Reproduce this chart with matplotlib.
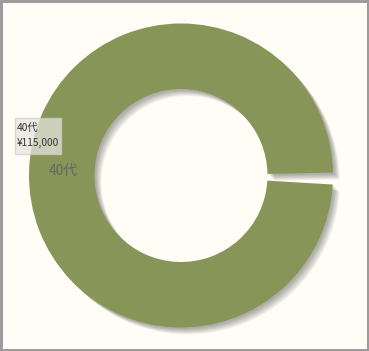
import matplotlib
matplotlib.use("Agg")
import matplotlib.pyplot as plt
from matplotlib.patches import Wedge, FancyBboxPatch

plt.rcParams['font.family'] = ['Noto Sans CJK JP', 'DejaVu Sans']

# data
categories = ['40代']
values = [115000]
tooltip_lines = ['40代', '¥115,000']

BG = '#FFFDF6'
GREEN = '#879558'

W, H = 369, 351
fig = plt.figure(figsize=(W / 100, H / 100), dpi=100)
fig.patch.set_facecolor(BG)
fig.patch.set_edgecolor('#9C9C9C')
fig.patch.set_linewidth(2.5)

ax = fig.add_axes([0, 0, 1, 1])
ax.set_facecolor(BG)

cx, cy = 181, 175.5
r_out, ring = 152, 65.5
start = 1.1
gap = 4.5

wedges, texts = ax.pie(values, labels=categories, radius=r_out, center=(cx, cy),
                       startangle=start, counterclock=True, colors=[GREEN],
                       labeldistance=0.79, textprops={'fontsize': 10, 'color': '#666666'},
                       wedgeprops={'width': ring, 'linewidth': 0})
w = wedges[0]
w.set_theta2(w.theta2 - gap)

# soft drop shadow behind the ring
for i in range(7):
    off = 1.5 + i * 0.9
    sh = Wedge((cx + off, cy - off), r_out, w.theta1, w.theta2, width=ring,
               facecolor='black', alpha=0.05, linewidth=0, zorder=0)
    ax.add_patch(sh)
w.set_zorder(2)

# label sits in the middle of the ring
for t in texts:
    t.set_ha('center')
    t.set_va('center')
    x, y = t.get_position()
    t.set_position((x + 2, y + 7))
    t.set_zorder(3)

# tooltip box
box = FancyBboxPatch((15, H - 154), 46, 36, boxstyle='square,pad=0',
                     facecolor='#E6E6DE', edgecolor='#CCCCCC', alpha=0.75,
                     linewidth=1, zorder=4)
ax.add_patch(box)
ax.text(16.5, H - 128, tooltip_lines[0], fontsize=7.3, color='#333333',
        va='center', ha='left', zorder=5)
ax.text(16.5, H - 143, tooltip_lines[1], fontsize=7.3, color='#333333',
        va='center', ha='left', zorder=5)

ax.set_xlim(0, W)
ax.set_ylim(0, H)
ax.set_aspect('equal')
ax.axis('off')

fig.savefig('out.png', dpi=100, facecolor=BG, edgecolor=fig.get_edgecolor())
